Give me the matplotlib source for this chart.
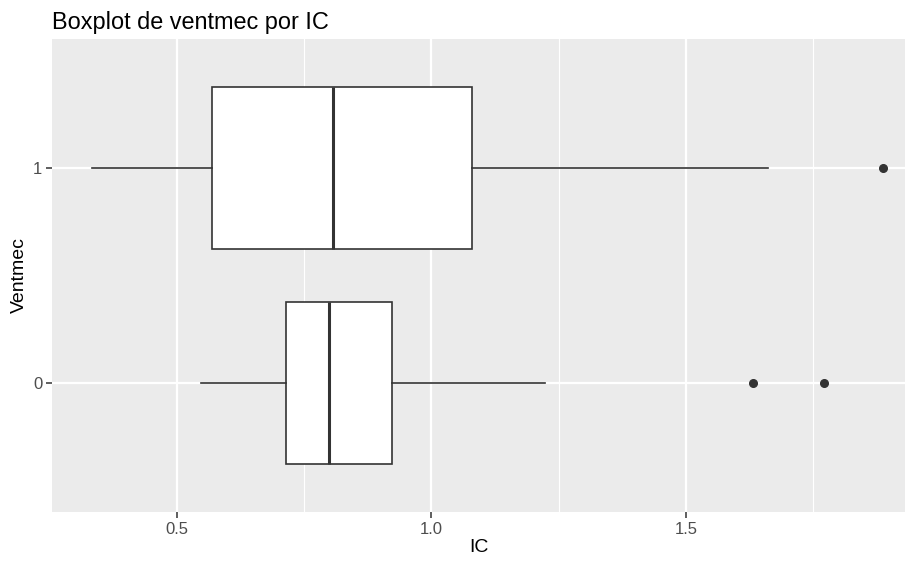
import numpy as np
import matplotlib
matplotlib.use("Agg")
import matplotlib.pyplot as plt
from matplotlib.ticker import MultipleLocator

plt.rcParams["font.family"] = ["Liberation Sans", "DejaVu Sans"]

# values
categories = ["0", "1"]
whislo = [0.547, 0.333]
q1 = [0.714, 0.569]
med = [0.799, 0.806]
q3 = [0.922, 1.080]
whishi = [1.223, 1.661]
fliers = [[1.632, 1.771], [1.887]]

title = "Boxplot de ventmec por IC"
xlabel = "IC"
ylabel = "Ventmec"

stats = []
for i, cat in enumerate(categories):
    stats.append({
        "label": cat,
        "whislo": whislo[i],
        "q1": q1[i],
        "med": med[i],
        "q3": q3[i],
        "whishi": whishi[i],
        "fliers": np.array(fliers[i]),
    })

fig = plt.figure(figsize=(9.07, 5.63), dpi=100)
ax = fig.add_axes([52 / 907, 1 - 512 / 563, 853 / 907, 473 / 563])
ax.set_facecolor("#EBEBEB")
for s in ax.spines.values():
    s.set_visible(False)

ax.xaxis.set_major_locator(MultipleLocator(0.5))
ax.xaxis.set_minor_locator(MultipleLocator(0.25))
ax.grid(which="major", color="white", linewidth=1.6)
ax.grid(which="minor", axis="x", color="white", linewidth=0.8)
ax.set_axisbelow(True)

ax.bxp(stats, positions=range(len(categories)), widths=0.75,
       orientation="horizontal", showcaps=False, patch_artist=True,
       boxprops=dict(facecolor="white", edgecolor="#333333", linewidth=1.2),
       whiskerprops=dict(color="#333333", linewidth=1.2),
       medianprops=dict(color="#333333", linewidth=2.2),
       flierprops=dict(marker="o", markerfacecolor="#333333",
                       markeredgecolor="#333333", markersize=5.5),
       zorder=3)

ax.set_xlim(0.255, 1.93)
ax.set_ylim(-0.6, 1.6)
ax.set_yticks(range(len(categories)))
ax.set_yticklabels(categories)

ax.tick_params(axis="both", which="major", length=4, width=1.1,
               color="#333333", labelcolor="#4D4D4D", labelsize=12, pad=3)
ax.tick_params(axis="both", which="minor", length=0)

ax.set_xlabel(xlabel, fontsize=14, color="black", labelpad=2)
ax.set_ylabel(ylabel, fontsize=14, color="black", labelpad=4)
ax.set_title(title, fontsize=16.9, color="black", loc="left", pad=7)

fig.savefig("out.png", dpi=100)
